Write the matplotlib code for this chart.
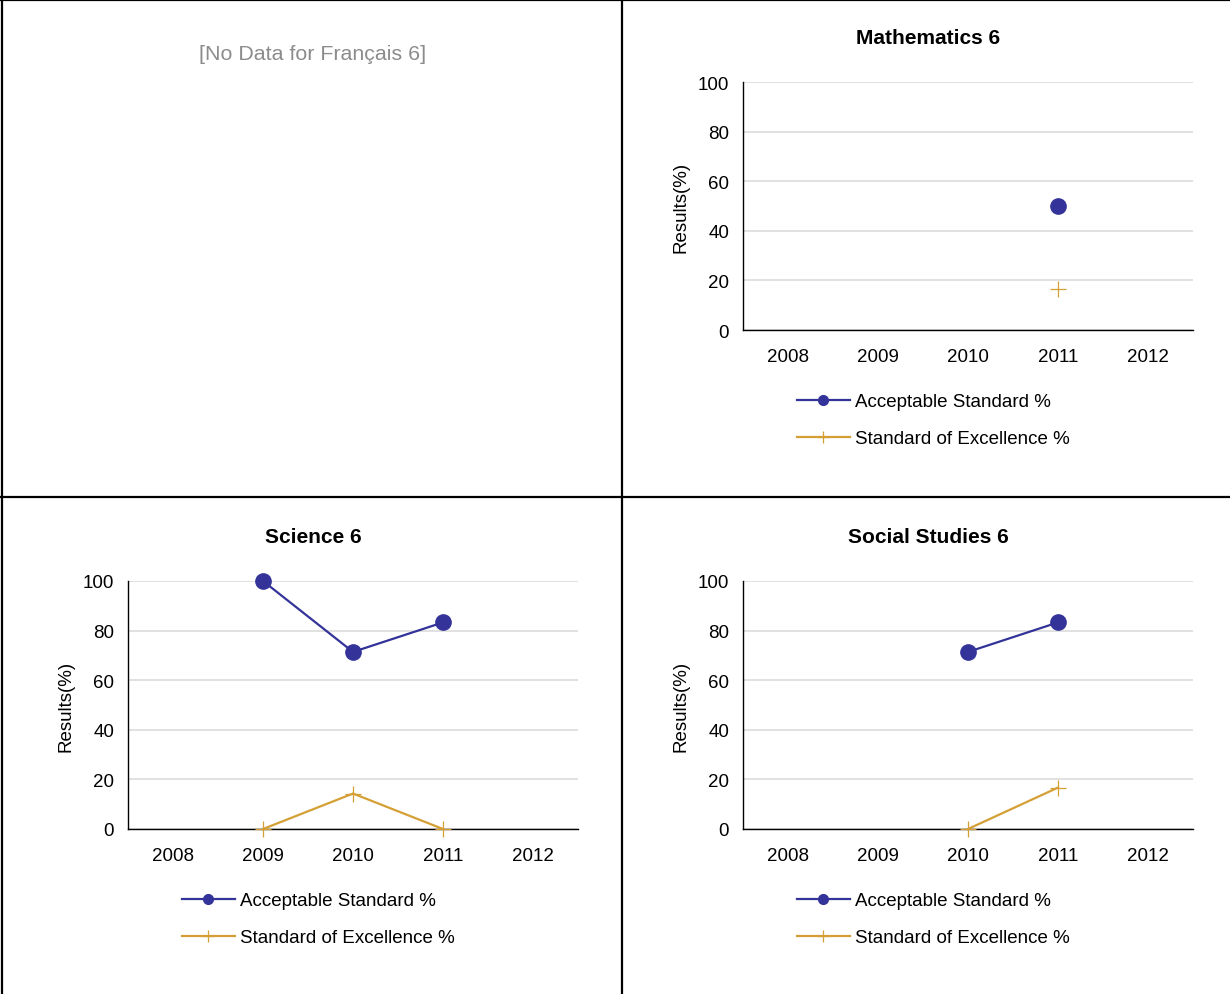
import numpy as np
import matplotlib
matplotlib.use("Agg")
import matplotlib.pyplot as plt
from matplotlib.lines import Line2D

plt.rcParams['font.family'] = ['Liberation Sans', 'DejaVu Sans']

years = ["2008", "2009", "2010", "2011", "2012"]
nan = np.nan

math_acceptable = [nan, nan, nan, 50.0, nan]
math_excellence = [nan, nan, nan, 16.7, nan]

science_acceptable = [nan, 100.0, 71.4, 83.3, nan]
science_excellence = [nan, 0.0, 14.3, 0.0, nan]

social_acceptable = [nan, nan, 71.4, 83.3, nan]
social_excellence = [nan, nan, 0.0, 16.7, nan]

francais_title = "Français 6"

BLUE = "#333399"
GOLD = "#D4A035"
W, H = 1230, 995

fig = plt.figure(figsize=(W / 100, H / 100), dpi=100)


def px_rect(left, top, right, bottom):
    return [left / W, 1 - bottom / H, (right - left) / W, (bottom - top) / H]


def panel(rect, title, acc, exc, title_y, legend_xy):
    ax = fig.add_axes(rect)
    x = np.arange(len(years))
    ax.plot(x, acc, color=BLUE, lw=1.6, marker="o", ms=11, clip_on=False, zorder=4)
    ax.plot(x, exc, color=GOLD, lw=1.6, marker="+", ms=12, mew=0.9, clip_on=False, zorder=3)
    ax.set_xlim(-0.5, len(years) - 0.5)
    ax.set_ylim(0, 100)
    ax.set_yticks(range(0, 101, 20))
    ax.set_xticks(x)
    ax.set_xticklabels(years)
    ax.tick_params(length=0, labelsize=13.5)
    ax.tick_params(axis="y", pad=10)
    ax.tick_params(axis="x", pad=13)
    ax.grid(axis="y", color="#D9D9D9", lw=1.1)
    ax.set_axisbelow(True)
    for s in ("top", "right"):
        ax.spines[s].set_visible(False)
    for s in ("left", "bottom"):
        ax.spines[s].set_color("black")
        ax.spines[s].set_linewidth(1.0)
    ax.set_ylabel("Results(%)", fontsize=13.5, labelpad=6)
    cx = rect[0] + rect[2] / 2 - 40 / W
    fig.text(cx, 1 - title_y / H, title, ha="center", va="center",
             fontsize=15, fontweight="bold")
    handles = [
        Line2D([], [], color=BLUE, lw=1.6, marker="o", ms=7),
        Line2D([], [], color=GOLD, lw=1.6, marker="+", ms=9, mew=0.9),
    ]
    fig.legend(handles, ["Acceptable Standard %", "Standard of Excellence %"],
               loc="upper left",
               bbox_to_anchor=(legend_xy[0] / W, 1 - legend_xy[1] / H),
               frameon=False, fontsize=13.5, handlelength=2.8,
               handletextpad=0.3, labelspacing=1.08, borderpad=0,
               borderaxespad=0)
    return ax


panel(px_rect(743, 83, 1193, 331), "Mathematics 6",
      math_acceptable, math_excellence, 38, (797, 394))
panel(px_rect(128, 582, 578, 830), "Science 6",
      science_acceptable, science_excellence, 538, (182, 893))
panel(px_rect(743, 582, 1193, 830), "Social Studies 6",
      social_acceptable, social_excellence, 538, (797, 893))

fig.text(313 / W, 1 - 55 / H, f"[No Data for {francais_title}]",
         ha="center", va="center", fontsize=15.4, color="#8C8C8C")

# cell borders
lw = 1.6
fig.add_artist(Line2D([0, 1], [1 - 1 / H, 1 - 1 / H], color="black", lw=lw))
fig.add_artist(Line2D([2 / W, 2 / W], [0, 1], color="black", lw=lw))
fig.add_artist(Line2D([622 / W, 622 / W], [0, 1], color="black", lw=lw))
fig.add_artist(Line2D([0, 1], [1 - 498 / H, 1 - 498 / H], color="black", lw=lw))

fig.savefig("out.png", dpi=100, facecolor="white")
